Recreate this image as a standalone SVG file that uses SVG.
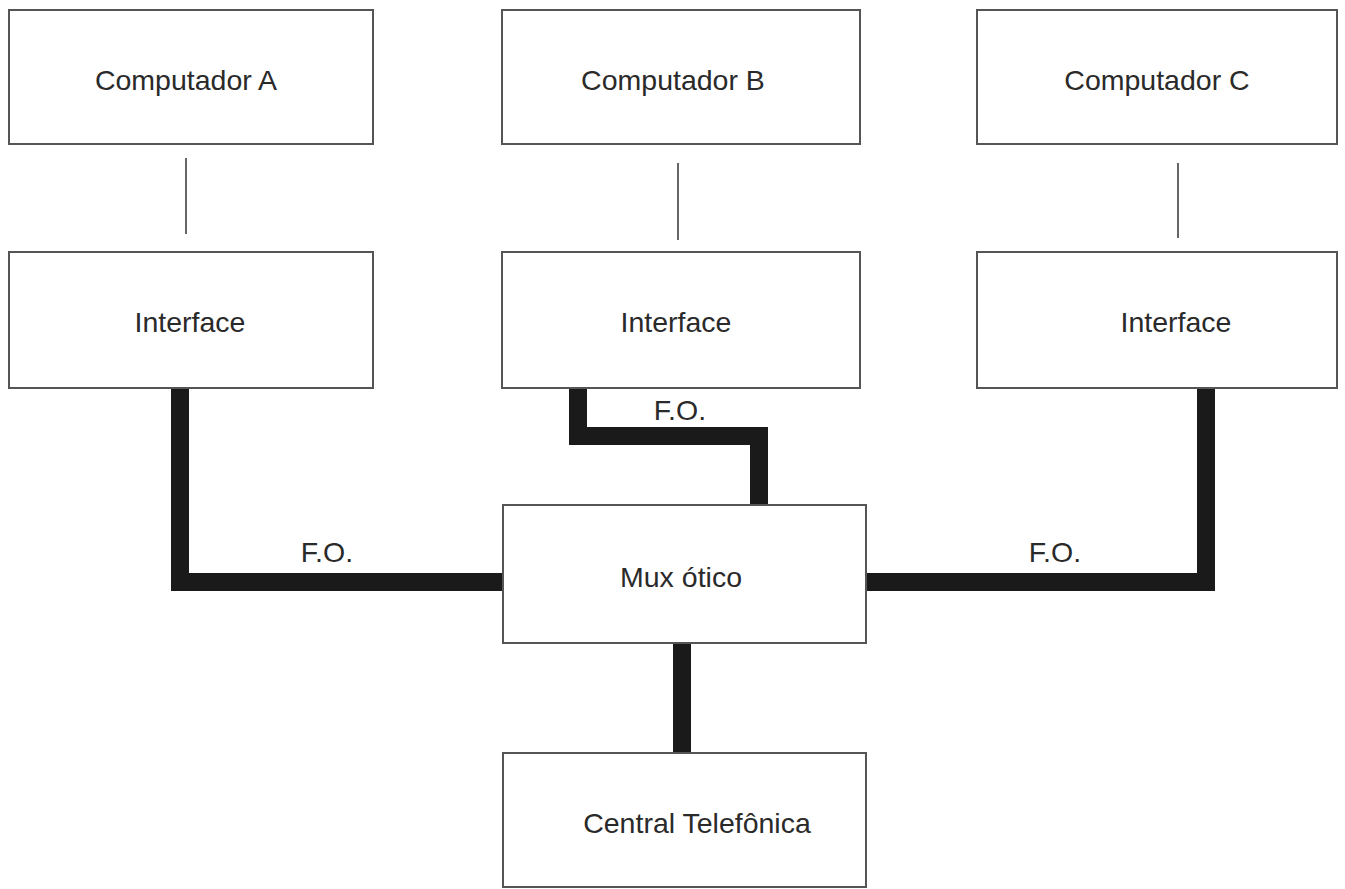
<svg xmlns="http://www.w3.org/2000/svg" width="1345" height="889" viewBox="0 0 1345 889">
<style>
.box{fill:#fff;stroke:#555;stroke-width:2}
.lbl{font-family:"Liberation Sans",Arial,sans-serif;font-size:28.5px;fill:#2a2a2a;text-anchor:middle}
.thin{stroke:#666;stroke-width:2;fill:none}
.fo{stroke:#1a1a1a;stroke-width:18;fill:none;stroke-linejoin:miter;stroke-linecap:butt}
</style>
<rect width="1345" height="889" fill="#fff"/>
<g id="connectors">
<line class="thin" x1="186" y1="158" x2="186" y2="234"/>
<line class="thin" x1="678" y1="163" x2="678" y2="240"/>
<line class="thin" x1="1178" y1="163" x2="1178" y2="238"/>
<polyline class="fo" points="180,388 180,582 503,582"/>
<polyline class="fo" points="578,388 578,436 759,436 759,505"/>
<polyline class="fo" points="866,582 1206,582 1206,388"/>
<line class="fo" x1="682" y1="643" x2="682" y2="753"/>
<text class="lbl" x="327" y="562">F.O.</text>
<text class="lbl" x="680" y="420">F.O.</text>
<text class="lbl" x="1055" y="562">F.O.</text>
</g>
<g id="compA"><rect class="box" x="9" y="10" width="364" height="134"/><text class="lbl" x="186" y="90">Computador A</text></g>
<g id="compB"><rect class="box" x="502" y="10" width="358" height="134"/><text class="lbl" x="673" y="90">Computador B</text></g>
<g id="compC"><rect class="box" x="977" y="10" width="360" height="134"/><text class="lbl" x="1157" y="90">Computador C</text></g>
<g id="ifA"><rect class="box" x="9" y="252" width="364" height="136"/><text class="lbl" x="190" y="332">Interface</text></g>
<g id="ifB"><rect class="box" x="502" y="252" width="358" height="136"/><text class="lbl" x="676" y="332">Interface</text></g>
<g id="ifC"><rect class="box" x="977" y="252" width="360" height="136"/><text class="lbl" x="1176" y="332">Interface</text></g>
<g id="mux"><rect class="box" x="503" y="505" width="363" height="138"/><text class="lbl" x="681" y="587">Mux ótico</text></g>
<g id="central"><rect class="box" x="503" y="753" width="363" height="134"/><text class="lbl" x="697" y="833">Central Telefônica</text></g>
</svg>
